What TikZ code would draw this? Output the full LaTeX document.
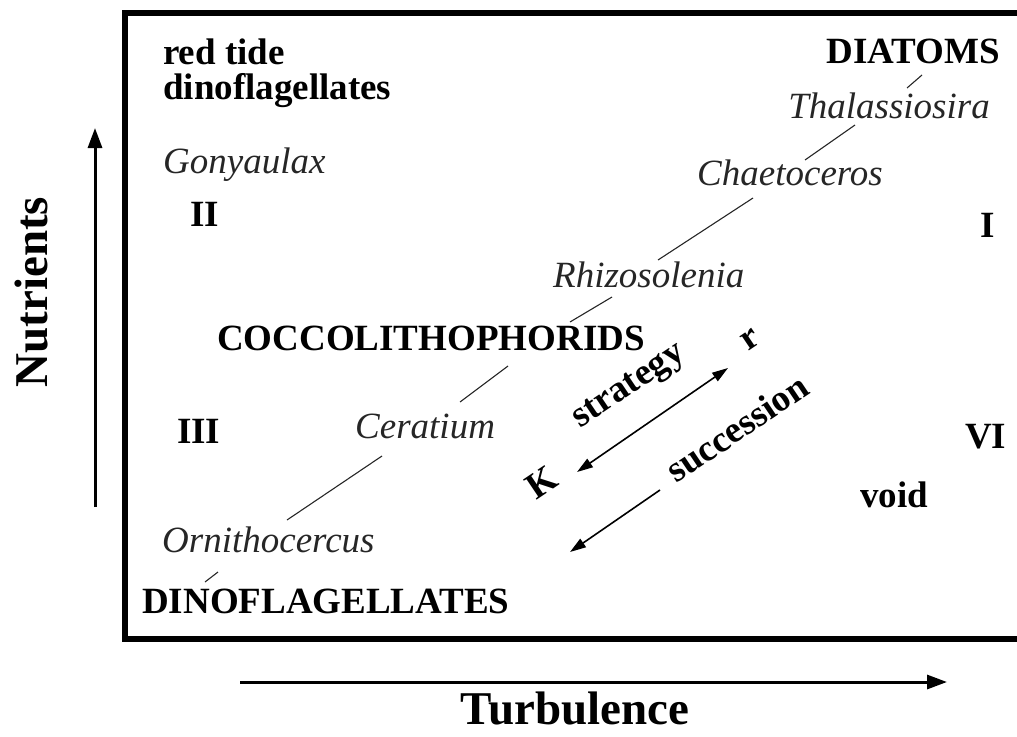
\documentclass[tikz,border=0pt]{standalone}
\usepackage{fontspec}
\setmainfont{Liberation Serif}
\usetikzlibrary{arrows.meta}
\tikzset{
  lbl/.style={inner sep=0pt, font=\fontsize{37}{37}\selectfont\bfseries, text=black},
  gen/.style={inner sep=0pt, font=\fontsize{37}{37}\selectfont\itshape, text=black!85},
  axlbl/.style={inner sep=0pt, font=\fontsize{47}{47}\selectfont\bfseries},
  link/.style={line width=1.1pt, black!85},
  axis/.style={line width=3pt, -{Triangle[length=20pt,width=14pt]}},
  diag/.style={line width=1.6pt, {Triangle[length=16pt,width=10pt]}-{Triangle[length=16pt,width=10pt]}},
  diagone/.style={line width=1.6pt, -{Triangle[length=16pt,width=10pt]}},
  rot/.style={inner sep=0pt, font=\fontsize{37}{37}\selectfont\bfseries, rotate=34}
}
\begin{document}
\begin{tikzpicture}[x=1pt,y=-1pt]
\useasboundingbox (0,0) rectangle (1017,736);
% frame
\draw[line width=6pt] (1030,13) -- (125,13) -- (125,639) -- (1030,639);
% axes
\coordinate (nb) at (95,507); \coordinate (nt) at (95,128);
\draw[axis] (nb) -- (nt);
\node[axlbl, rotate=90, anchor=base] (nut) at (47,292) {Nutrients};
\coordinate (tl) at (240,682); \coordinate (tr) at (947,682);
\draw[axis] (tl) -- (tr);
\node[axlbl, anchor=base, text depth=0pt] (turb) at (575,724) {Turbulence};
% labels
\node[lbl, anchor=base west] (red) at (163,64) {red tide};
\node[lbl, anchor=base west] (redd) at (163,99) {dinoflagellates};
\node[gen, anchor=base west] (gony) at (163,173) {Gonyaulax};
\node[lbl, anchor=base west] (II) at (190,226) {II};
\node[lbl, anchor=base east] (diat) at (1000,63) {DIATOMS};
\node[gen, anchor=base east] (thal) at (990,118) {Thalassiosira};
\node[gen, anchor=base west] (chae) at (697,185) {Chaetoceros};
\node[lbl, anchor=base west] (I) at (980,237) {I};
\node[gen, anchor=base west] (rhiz) at (553,287) {Rhizosolenia};
\node[lbl, anchor=base west] (cocc) at (217,350) {COCCOLITHOPHORIDS};
\node[lbl, anchor=base west] (III) at (177,443) {III};
\node[gen, anchor=base west] (cera) at (355,438) {Ceratium};
\node[lbl, anchor=base west] (VI) at (965,448) {VI};
\node[lbl, anchor=base west] (void) at (860,507) {void};
\node[gen, anchor=base west] (orni) at (162,552) {Ornithocercus};
\node[lbl, anchor=base west] (dino) at (142,613) {DINOFLAGELLATES};
% rotated labels
\node[rot] (strat) at (630,388) {strategy};
\node[rot] (succ) at (737,428) {succession};
\node[rot] (K) at (542,482) {K};
\node[rot] (r) at (750,340) {r};
% links between genera
\coordinate (a1) at (922,75); \coordinate (a2) at (907,88);
\draw[link] (a1) -- (a2);
\coordinate (b1) at (855,125); \coordinate (b2) at (805,160);
\draw[link] (b1) -- (b2);
\coordinate (c1) at (753,198); \coordinate (c2) at (658,260);
\draw[link] (c1) -- (c2);
\coordinate (d1) at (612,297); \coordinate (d2) at (570,322);
\draw[link] (d1) -- (d2);
\coordinate (e1) at (508,366); \coordinate (e2) at (460,402);
\draw[link] (e1) -- (e2);
\coordinate (f1) at (382,456); \coordinate (f2) at (287,520);
\draw[link] (f1) -- (f2);
\coordinate (g1) at (218,572); \coordinate (g2) at (205,582);
\draw[link] (g1) -- (g2);
% strategy / succession arrows
\coordinate (s1) at (577,472); \coordinate (s2) at (728,368);
\draw[diag] (s1) -- (s2);
\coordinate (u1) at (660,490); \coordinate (u2) at (570,552);
\draw[diagone] (u1) -- (u2);
\end{tikzpicture}
\end{document}
